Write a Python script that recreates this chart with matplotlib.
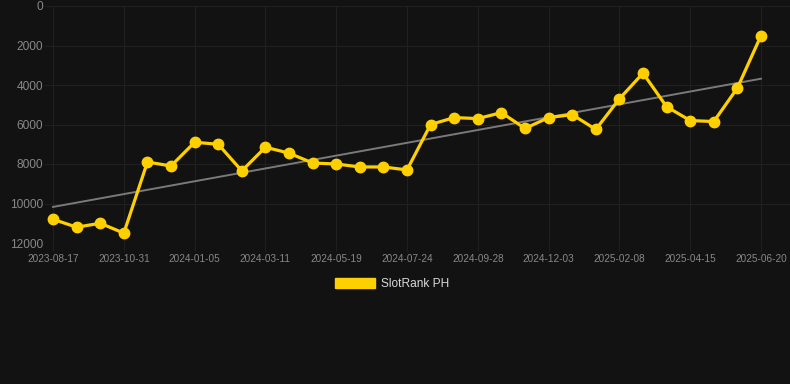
import matplotlib.pyplot as plt
import numpy as np

# dates of each sample (only every 3rd is shown on the axis)
dates = ["2023-08-17", "2023-09-11", "2023-10-06", "2023-10-31", "2023-11-22",
         "2023-12-14", "2024-01-05", "2024-01-26", "2024-02-18", "2024-03-11",
         "2024-04-03", "2024-04-26", "2024-05-19", "2024-06-10", "2024-07-02",
         "2024-07-24", "2024-08-15", "2024-09-06", "2024-09-28", "2024-10-20",
         "2024-11-11", "2024-12-03", "2024-12-25", "2025-01-17", "2025-02-08",
         "2025-03-02", "2025-03-24", "2025-04-15", "2025-05-06", "2025-05-28",
         "2025-06-20"]
rank = [10800, 11200, 11000, 11500, 7900, 8100, 6900, 7000, 8350, 7150,
        7450, 7950, 8000, 8150, 8150, 8300, 6000, 5650, 5700, 5400,
        6200, 5650, 5500, 6250, 4700, 3400, 5100, 5800, 5850, 4150,
        1500]
label = "SlotRank PH"

bg = "#121212"
yellow = "#FFD000"
tick_col = "#888888"
grid_col = "#202020"

plt.rcParams['font.family'] = ['Liberation Sans', 'DejaVu Sans']

fig = plt.figure(figsize=(7.9, 3.84), dpi=100, facecolor=bg)
ax = fig.add_axes([45 / 790, 1 - 243 / 384, 1 - 45 / 790, (243 - 6) / 384])
ax.set_facecolor(bg)

x = np.arange(len(rank))
ax.plot(x, rank, color=yellow, lw=2.3, marker="o", ms=7.5, zorder=3, label=label)

# linear trend
k, b = np.polyfit(x, rank, 1)
ax.plot(x, k * x + b, color="#7a7a7a", lw=1.4, zorder=2)

ax.set_ylim(12000, 0)
ax.set_yticks(range(0, 12001, 2000))
ax.set_xlim(-0.34, 30 + 29 / 23.6)
ax.set_xticks(x[::3])
ax.set_xticklabels(dates[::3])

for s in ax.spines.values():
    s.set_visible(False)
ax.grid(True, color=grid_col, lw=0.8)
ax.tick_params(axis="y", colors=tick_col, labelsize=8.6, length=0, pad=1.5)
ax.tick_params(axis="x", colors=grid_col, labelcolor=tick_col, labelsize=7.2,
               length=6, width=0.8, pad=2)

leg = fig.legend(handles=[plt.Rectangle((0, 0), 1, 1, color=yellow)], labels=[label],
                 loc="center", bbox_to_anchor=(392 / 790, 1 - 284 / 384),
                 frameon=False, fontsize=8.6, handlelength=3.3, handleheight=1.0,
                 handletextpad=0.5)
for t in leg.get_texts():
    t.set_color("#d8d8d8")

fig.savefig("out.png", dpi=100, facecolor=bg)
